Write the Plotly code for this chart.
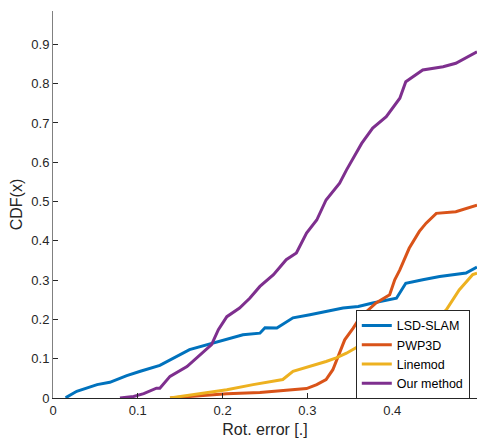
import plotly.graph_objects as go

# LSD-SLAM
lsd_x = [0.0153, 0.016, 0.028, 0.052, 0.067, 0.087, 0.103, 0.122, 0.126, 0.161, 0.185, 0.224, 0.244,
         0.250, 0.264, 0.283, 0.303, 0.322, 0.342, 0.360, 0.377, 0.405, 0.416, 0.436, 0.456, 0.487, 0.500]
lsd_y = [0.0, 0.002, 0.017, 0.034, 0.040, 0.057, 0.068, 0.080, 0.083, 0.123, 0.138, 0.161, 0.165,
         0.179, 0.178, 0.204, 0.212, 0.220, 0.229, 0.233, 0.242, 0.254, 0.292, 0.301, 0.309, 0.318, 0.333]

# PWP3D
pwp_x = [0.138, 0.205, 0.244, 0.275, 0.299, 0.311, 0.322, 0.330, 0.338, 0.344, 0.354, 0.362, 0.381,
         0.397, 0.403, 0.409, 0.420, 0.432, 0.440, 0.452, 0.475, 0.500]
pwp_y = [0.0, 0.011, 0.014, 0.019, 0.024, 0.034, 0.047, 0.072, 0.114, 0.148, 0.178, 0.205, 0.242,
         0.263, 0.301, 0.326, 0.381, 0.424, 0.445, 0.470, 0.474, 0.491]

# Linemod
lm_x = [0.138, 0.165, 0.205, 0.236, 0.271, 0.283, 0.303, 0.322, 0.334, 0.346, 0.360, 0.380, 0.400,
        0.420, 0.440, 0.455, 0.464, 0.479, 0.495, 0.500]
lm_y = [0.0, 0.008, 0.021, 0.034, 0.047, 0.068, 0.080, 0.093, 0.102, 0.114, 0.131, 0.140, 0.155,
        0.170, 0.190, 0.205, 0.225, 0.275, 0.314, 0.318]

# Our method
our_x = [0.079, 0.095, 0.107, 0.122, 0.126, 0.138, 0.158, 0.173, 0.187, 0.195, 0.205, 0.220, 0.232,
         0.244, 0.260, 0.275, 0.287, 0.299, 0.311, 0.322, 0.338, 0.346, 0.358, 0.364, 0.377, 0.393,
         0.409, 0.416, 0.436, 0.460, 0.475, 0.500]
our_y = [0.0, 0.004, 0.011, 0.025, 0.025, 0.055, 0.080, 0.110, 0.136, 0.174, 0.207, 0.229, 0.254,
         0.284, 0.314, 0.352, 0.369, 0.420, 0.453, 0.504, 0.547, 0.580, 0.623, 0.648, 0.687, 0.716,
         0.763, 0.805, 0.835, 0.843, 0.852, 0.881]

x_ticks = [0, 0.1, 0.2, 0.3, 0.4]
x_tick_labels = ["0", "0.1", "0.2", "0.3", "0.4"]
y_ticks = [0, 0.1, 0.2, 0.3, 0.4, 0.5, 0.6, 0.7, 0.8, 0.9]
y_tick_labels = ["0", "0.1", "0.2", "0.3", "0.4", "0.5", "0.6", "0.7", "0.8", "0.9"]

series = [
    ("LSD-SLAM", lsd_x, lsd_y, "#0072BD"),
    ("PWP3D", pwp_x, pwp_y, "#D95319"),
    ("Linemod", lm_x, lm_y, "#EDB120"),
    ("Our method", our_x, our_y, "#7E2F8E"),
]

fig = go.Figure()
for name, xs, ys, col in series:
    fig.add_trace(go.Scatter(x=xs, y=ys, mode="lines", name=name,
                             line=dict(color=col, width=3)))

font_color = "#262626"
fig.update_layout(
    width=477, height=441,
    margin=dict(l=53, r=0, t=11, b=43, autoexpand=False),
    paper_bgcolor="white", plot_bgcolor="white",
    font=dict(family="Liberation Sans, Arial, sans-serif", size=13, color=font_color),
    showlegend=True,
    legend=dict(x=0.983, y=0.228, xanchor="right", yanchor="top",
                bgcolor="white", bordercolor="#262626", borderwidth=1,
                font=dict(size=12.5, color="black"), tracegroupgap=0,
                itemwidth=30),
    xaxis=dict(range=[0, 0.5], tickvals=x_ticks, ticktext=x_tick_labels,
               ticks="inside", ticklen=5, tickcolor="#262626",
               showline=True, linecolor="#262626", linewidth=1,
               showgrid=False, zeroline=False, automargin=False,
               title=dict(text="Rot. error [.]", standoff=7)),
    yaxis=dict(range=[0, 0.985], tickvals=y_ticks, ticktext=y_tick_labels,
               ticks="inside", ticklen=5, tickcolor="#262626",
               showline=True, linecolor="#808080", linewidth=1,
               showgrid=False, zeroline=False, automargin=False,
               title=dict(text="CDF(x)", standoff=4)),
)

fig.write_html(
    "out.html",
    config={"displayModeBar": False},
    post_script="document.body.style.margin='0';document.body.style.overflow='hidden';"
                "document.documentElement.style.overflow='hidden';",
)
